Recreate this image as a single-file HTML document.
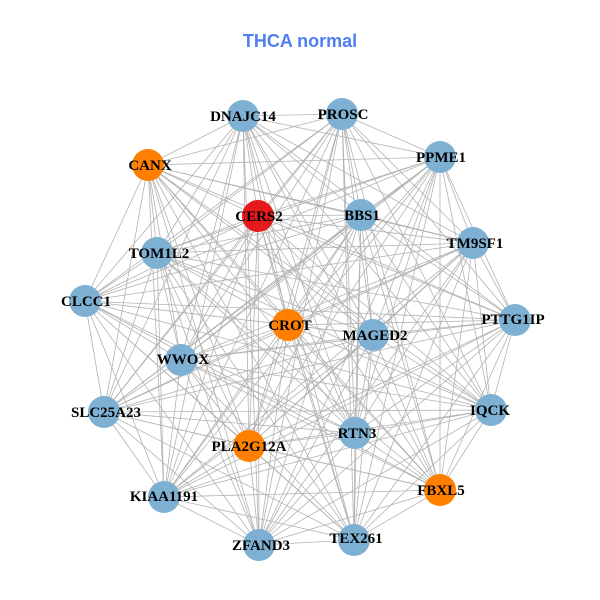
<!DOCTYPE html>
<html><head><meta charset="utf-8"><style>
html,body{margin:0;padding:0;background:#fff;}
svg{display:block;}
.l{font-family:"Liberation Serif",serif;font-weight:bold;font-size:15px;fill:#000;text-anchor:middle;dominant-baseline:central;}
</style></head><body>
<svg width="600" height="600" viewBox="0 0 600 600" xmlns="http://www.w3.org/2000/svg">
<rect width="600" height="600" fill="#fff"/>
<text x="300" y="41" font-family="Liberation Sans,sans-serif" font-weight="bold" font-size="18" fill="#4f7ef0" text-anchor="middle" dominant-baseline="central">THCA normal</text>
<g fill="none" stroke="#b3b3b3" stroke-width="0.8">
<path d="M243 116 L342 114 L243 116 L148 165 L243 116 L440 157 L243 116 L258 216 L243 116 L361 215 L243 116 L157 253 L243 116 L473 243 L243 116 L85 301 L243 116 L288 325 L243 116 L515 320 L243 116 L373 335 L243 116 L181 360 L243 116 L104 412 L243 116 L491 410 L243 116 L355 433 L243 116 L249 446 L243 116 L440 490 L243 116 L164 497 L243 116 L259 545 L243 116 L354 540"/>
<path d="M342 114 L148 165 L342 114 L440 157 L342 114 L258 216 L342 114 L361 215 L342 114 L157 253 L342 114 L473 243 L342 114 L85 301 L342 114 L288 325 L342 114 L515 320 L342 114 L373 335 L342 114 L181 360 L342 114 L104 412 L342 114 L491 410 L342 114 L355 433 L342 114 L249 446 L342 114 L440 490 L342 114 L164 497 L342 114 L259 545 L342 114 L354 540"/>
<path d="M148 165 L440 157 L148 165 L258 216 L148 165 L361 215 L148 165 L157 253 L148 165 L473 243 L148 165 L85 301 L148 165 L288 325 L148 165 L515 320 L148 165 L373 335 L148 165 L181 360 L148 165 L104 412 L148 165 L491 410 L148 165 L355 433 L148 165 L249 446 L148 165 L440 490 L148 165 L164 497 L148 165 L259 545 L148 165 L354 540"/>
<path d="M440 157 L258 216 L440 157 L361 215 L440 157 L157 253 L440 157 L473 243 L440 157 L85 301 L440 157 L288 325 L440 157 L515 320 L440 157 L373 335 L440 157 L181 360 L440 157 L104 412 L440 157 L491 410 L440 157 L355 433 L440 157 L249 446 L440 157 L440 490 L440 157 L164 497 L440 157 L259 545 L440 157 L354 540"/>
<path d="M258 216 L361 215 L258 216 L157 253 L258 216 L473 243 L258 216 L85 301 L258 216 L288 325 L258 216 L515 320 L258 216 L373 335 L258 216 L181 360 L258 216 L104 412 L258 216 L491 410 L258 216 L355 433 L258 216 L249 446 L258 216 L440 490 L258 216 L164 497 L258 216 L259 545 L258 216 L354 540"/>
<path d="M361 215 L157 253 L361 215 L473 243 L361 215 L85 301 L361 215 L288 325 L361 215 L515 320 L361 215 L373 335 L361 215 L181 360 L361 215 L104 412 L361 215 L491 410 L361 215 L355 433 L361 215 L249 446 L361 215 L440 490 L361 215 L164 497 L361 215 L259 545 L361 215 L354 540"/>
<path d="M157 253 L473 243 L157 253 L85 301 L157 253 L288 325 L157 253 L515 320 L157 253 L373 335 L157 253 L181 360 L157 253 L104 412 L157 253 L491 410 L157 253 L355 433 L157 253 L249 446 L157 253 L440 490 L157 253 L164 497 L157 253 L259 545 L157 253 L354 540"/>
<path d="M473 243 L85 301 L473 243 L288 325 L473 243 L515 320 L473 243 L373 335 L473 243 L181 360 L473 243 L104 412 L473 243 L491 410 L473 243 L355 433 L473 243 L249 446 L473 243 L440 490 L473 243 L164 497 L473 243 L259 545 L473 243 L354 540"/>
<path d="M85 301 L288 325 L85 301 L515 320 L85 301 L373 335 L85 301 L181 360 L85 301 L104 412 L85 301 L491 410 L85 301 L355 433 L85 301 L249 446 L85 301 L440 490 L85 301 L164 497 L85 301 L259 545 L85 301 L354 540"/>
<path d="M288 325 L515 320 L288 325 L373 335 L288 325 L181 360 L288 325 L104 412 L288 325 L491 410 L288 325 L355 433 L288 325 L249 446 L288 325 L440 490 L288 325 L164 497 L288 325 L259 545 L288 325 L354 540"/>
<path d="M515 320 L373 335 L515 320 L181 360 L515 320 L104 412 L515 320 L491 410 L515 320 L355 433 L515 320 L249 446 L515 320 L440 490 L515 320 L164 497 L515 320 L259 545 L515 320 L354 540"/>
<path d="M373 335 L181 360 L373 335 L104 412 L373 335 L491 410 L373 335 L355 433 L373 335 L249 446 L373 335 L440 490 L373 335 L164 497 L373 335 L259 545 L373 335 L354 540"/>
<path d="M181 360 L104 412 L181 360 L491 410 L181 360 L355 433 L181 360 L249 446 L181 360 L440 490 L181 360 L164 497 L181 360 L259 545 L181 360 L354 540"/>
<path d="M104 412 L491 410 L104 412 L355 433 L104 412 L249 446 L104 412 L440 490 L104 412 L164 497 L104 412 L259 545 L104 412 L354 540"/>
<path d="M491 410 L355 433 L491 410 L249 446 L491 410 L440 490 L491 410 L164 497 L491 410 L259 545 L491 410 L354 540"/>
<path d="M355 433 L249 446 L355 433 L440 490 L355 433 L164 497 L355 433 L259 545 L355 433 L354 540"/>
<path d="M249 446 L440 490 L249 446 L164 497 L249 446 L259 545 L249 446 L354 540"/>
<path d="M440 490 L164 497 L440 490 L259 545 L440 490 L354 540"/>
<path d="M164 497 L259 545 L164 497 L354 540 M259 545 L354 540"/>
</g>
<g fill="#7eb0d4">
<circle cx="243" cy="116" r="16"/><circle cx="342" cy="114" r="16"/>
<circle cx="440" cy="157" r="16"/><circle cx="361" cy="215" r="16"/>
<circle cx="157" cy="253" r="16"/><circle cx="473" cy="243" r="16"/><circle cx="85" cy="301" r="16"/>
<circle cx="515" cy="320" r="16"/><circle cx="373" cy="335" r="16"/><circle cx="181" cy="360" r="16"/>
<circle cx="104" cy="412" r="16"/><circle cx="491" cy="410" r="16"/><circle cx="355" cy="433" r="16"/>
<circle cx="164" cy="497" r="16"/><circle cx="259" cy="545" r="16"/><circle cx="354" cy="540" r="16"/>
</g>
<g fill="#ff8000">
<circle cx="148" cy="165" r="16"/><circle cx="288" cy="325" r="16"/><circle cx="249" cy="446" r="16"/><circle cx="440" cy="490" r="16"/>
</g>
<circle cx="258" cy="216" r="16" fill="#e41a1c"/>
<text class="l" x="243" y="117">DNAJC14</text>
<text class="l" x="343" y="115">PROSC</text>
<text class="l" x="150" y="166">CANX</text>
<text class="l" x="441" y="158">PPME1</text>
<text class="l" x="259" y="217">CERS2</text>
<text class="l" x="362" y="216">BBS1</text>
<text class="l" x="159" y="254">TOM1L2</text>
<text class="l" x="475" y="244">TM9SF1</text>
<text class="l" x="86" y="302">CLCC1</text>
<text class="l" x="290" y="326">CROT</text>
<text class="l" x="513" y="320">PTTG1IP</text>
<text class="l" x="375" y="336">MAGED2</text>
<text class="l" x="183" y="360">WWOX</text>
<text class="l" x="106" y="413">SLC25A23</text>
<text class="l" x="490" y="411">IQCK</text>
<text class="l" x="357" y="434">RTN3</text>
<text class="l" x="249" y="447">PLA2G12A</text>
<text class="l" x="441" y="491">FBXL5</text>
<text class="l" x="164" y="497">KIAA1191</text>
<text class="l" x="261" y="546">ZFAND3</text>
<text class="l" x="356" y="539">TEX261</text>
</svg>
</body></html>
